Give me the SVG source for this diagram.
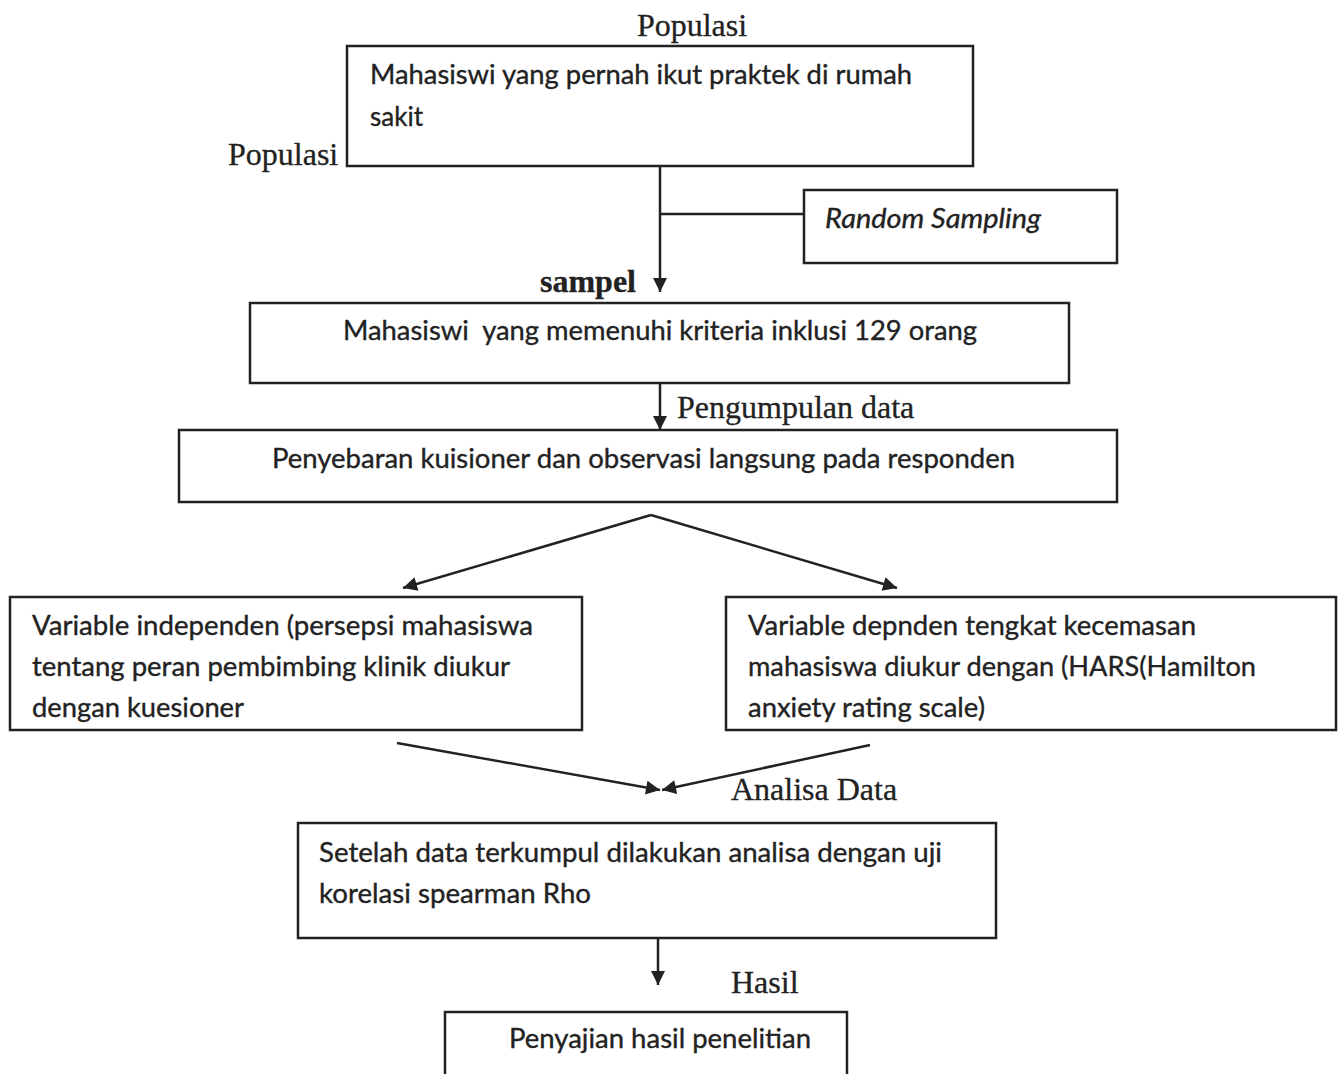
<svg xmlns="http://www.w3.org/2000/svg" width="1343" height="1074" viewBox="0 0 1343 1074">
<style>
.box{fill:#fff;stroke:#222;stroke-width:2.5}
.t{font-family:Lato,"Open Sans",sans-serif;font-size:27px;fill:#222;stroke:#222;stroke-width:0.35}
.s{font-family:"Liberation Serif","Times New Roman",serif;font-size:32px;fill:#222;stroke:#222;stroke-width:0.3}
.c{stroke:#222;stroke-width:2.5;fill:none}
</style>
<defs>
<marker id="ah" viewBox="0 0 10 10" refX="10" refY="5" markerWidth="16" markerHeight="14" markerUnits="userSpaceOnUse" orient="auto">
<path d="M0,0 L10,5 L0,10 Z" fill="#222"/>
</marker>
</defs>
<rect width="1343" height="1074" fill="#fff"/>
<g id="connectors">
<line class="c" x1="660" y1="166" x2="660" y2="292" marker-end="url(#ah)"/>
<line class="c" x1="660" y1="214" x2="804" y2="214"/>
<line class="c" x1="660" y1="383" x2="660" y2="430" marker-end="url(#ah)"/>
<line class="c" x1="651" y1="515" x2="403" y2="588" marker-end="url(#ah)"/>
<line class="c" x1="651" y1="515" x2="897" y2="588" marker-end="url(#ah)"/>
<line class="c" x1="397" y1="743" x2="660" y2="790" marker-end="url(#ah)"/>
<line class="c" x1="870" y1="745" x2="662" y2="790" marker-end="url(#ah)"/>
<line class="c" x1="658" y1="938" x2="658" y2="985" marker-end="url(#ah)"/>
</g>
<g id="label-populasi-top"><text class="s" x="692" y="36" text-anchor="middle">Populasi</text></g>
<g id="label-populasi-left"><text class="s" x="228" y="165">Populasi</text></g>
<g id="label-sampel"><text class="s" x="540" y="292" font-weight="bold">sampel</text></g>
<g id="label-pengumpulan"><text class="s" x="677" y="418">Pengumpulan data</text></g>
<g id="label-analisa"><text class="s" x="731" y="800">Analisa Data</text></g>
<g id="label-hasil"><text class="s" x="731" y="993">Hasil</text></g>
<g id="node-populasi">
<rect class="box" x="347" y="46" width="626" height="120"/>
<text class="t" x="370" y="84" textLength="542" lengthAdjust="spacingAndGlyphs">Mahasiswi yang pernah ikut praktek di rumah</text>
<text class="t" x="370" y="126" textLength="53" lengthAdjust="spacingAndGlyphs">sakit</text>
</g>
<g id="node-random">
<rect class="box" x="804" y="190" width="313" height="73"/>
<text class="t" x="825" y="228" font-style="italic" textLength="216" lengthAdjust="spacingAndGlyphs">Random Sampling</text>
</g>
<g id="node-sampel">
<rect class="box" x="250" y="303" width="819" height="80"/>
<text class="t" x="343" y="340" xml:space="preserve" textLength="634" lengthAdjust="spacingAndGlyphs">Mahasiswi  yang memenuhi kriteria inklusi 129 orang</text>
</g>
<g id="node-pengumpulan">
<rect class="box" x="179" y="430" width="938" height="72"/>
<text class="t" x="272" y="468" textLength="743" lengthAdjust="spacingAndGlyphs">Penyebaran kuisioner dan observasi langsung pada responden</text>
</g>
<g id="node-independen">
<rect class="box" x="10" y="597" width="572" height="133"/>
<text class="t" x="32" y="635" textLength="501" lengthAdjust="spacingAndGlyphs">Variable independen (persepsi mahasiswa</text>
<text class="t" x="32" y="676" textLength="478" lengthAdjust="spacingAndGlyphs">tentang peran pembimbing klinik diukur</text>
<text class="t" x="32" y="717" textLength="212" lengthAdjust="spacingAndGlyphs">dengan kuesioner</text>
</g>
<g id="node-dependen">
<rect class="box" x="726" y="597" width="610" height="133"/>
<text class="t" x="748" y="635" textLength="448" lengthAdjust="spacingAndGlyphs">Variable depnden tengkat kecemasan</text>
<text class="t" x="748" y="676" textLength="508" lengthAdjust="spacingAndGlyphs">mahasiswa diukur dengan (HARS(Hamilton</text>
<text class="t" x="748" y="717" textLength="237" lengthAdjust="spacingAndGlyphs">anxiety rating scale)</text>
</g>
<g id="node-analisa">
<rect class="box" x="298" y="823" width="698" height="115"/>
<text class="t" x="319" y="862" textLength="623" lengthAdjust="spacingAndGlyphs">Setelah data terkumpul dilakukan analisa dengan uji</text>
<text class="t" x="319" y="903" textLength="272" lengthAdjust="spacingAndGlyphs">korelasi spearman Rho</text>
</g>
<g id="node-hasil">
<rect class="box" x="445" y="1012" width="402" height="80"/>
<text class="t" x="509" y="1048" textLength="302" lengthAdjust="spacingAndGlyphs">Penyajian hasil penelitian</text>
</g>
</svg>
